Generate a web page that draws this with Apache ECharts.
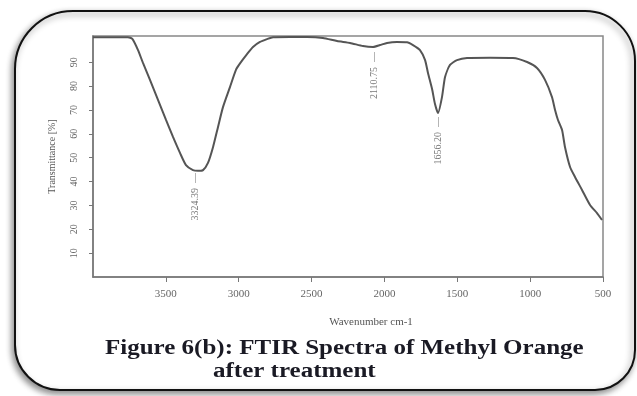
<!DOCTYPE html>
<html>
<head>
<meta charset="utf-8">
<script src="https://cdn.jsdelivr.net/npm/echarts@6/dist/echarts.min.js"></script>
<style>
  html, body { margin: 0; padding: 0; background: #fff; }
  #chart { width: 637px; height: 396px; }
</style>
</head>
<body>
<div id="chart"></div>
<script>
// spectrum (wavenumber cm-1 / transmittance %)
const wavenumbers = [4000, 3760, 3730, 3691, 3657, 3609, 3554, 3499, 3451, 3403, 3362, 3314, 3280, 3245, 3211, 3176,
  3142, 3108, 3060, 3019, 2991, 2943, 2902, 2854, 2806, 2765, 2648, 2531, 2422, 2325, 2236, 2147, 2078, 2030,
  1982, 1914, 1845, 1804, 1756, 1721, 1701, 1673, 1653, 1632, 1605, 1584, 1550, 1502, 1433, 1275, 1118, 1021,
  953, 898, 850, 829, 809, 781, 761, 726, 692, 644, 589, 541, 507];
const transmittance = [100.5, 100.5, 99.8, 95.1, 89.7, 82.6, 74.2, 65.8, 58.7, 52.0, 46.9, 44.8, 44.5, 44.8, 47.8, 54.5,
  62.9, 71.2, 79.6, 86.8, 89.5, 93.4, 96.4, 98.5, 99.7, 100.5, 100.6, 100.6, 100.2, 98.9, 98.1, 96.8, 96.4, 97.2,
  98.1, 98.5, 98.4, 97.2, 95.1, 90.9, 85.5, 78.8, 72.5, 68.7, 75.4, 83.8, 88.9, 90.9, 91.8, 91.9, 91.8, 90.1,
  87.6, 82.6, 75.4, 70.0, 65.8, 61.6, 54.5, 46.1, 41.9, 36.5, 30.2, 26.8, 23.9];

const peakLabels = ['3324.39', '2110.75', '1656.20'];
const peakWavenumbers = [3300, 2068, 1632];
const peakTransmittance = [43.6, 94.3, 67.1];

const xTicks = [3500, 3000, 2500, 2000, 1500, 1000, 500];
const yTicks = [10, 20, 30, 40, 50, 60, 70, 80, 90];

const captionLines = ['Figure 6(b): FTIR Spectra of Methyl Orange', 'after treatment'];

const serif = "'Liberation Serif', 'Times New Roman', serif";
const captionStyle = { fontFamily: serif, fontSize: 20, fontWeight: 'bold', fill: '#1a1a24', verticalAlign: 'top' };

const chart = echarts.init(document.getElementById('chart'), null, { renderer: 'canvas' });

chart.setOption({
  backgroundColor: '#fff',
  animation: false,
  graphic: [
    {
      type: 'rect', z: -10, silent: true,
      shape: { x: 15, y: 11, width: 620, height: 379, r: [58, 50, 40, 45] },
      style: {
        fill: '#fff', stroke: '#111', lineWidth: 2,
        shadowBlur: 6, shadowColor: 'rgba(0,0,0,0.45)', shadowOffsetX: -2, shadowOffsetY: 3
      }
    },
    // the scanned caption is stretched sideways, hence scaleX
    { type: 'text', x: 105, y: 339, scaleX: 1.25, style: Object.assign({ text: captionLines[0] }, captionStyle) },
    { type: 'text', x: 213, y: 362, scaleX: 1.25, style: Object.assign({ text: captionLines[1] }, captionStyle) }
  ],
  grid: {
    left: 93, right: 34, top: 36, bottom: 119,
    show: true, borderColor: '#888', borderWidth: 1.5, backgroundColor: 'transparent'
  },
  xAxis: {
    type: 'value', inverse: true, min: 500, max: 4000,
    name: 'Wavenumber cm-1', nameLocation: 'middle', nameGap: 40,
    nameTextStyle: { fontFamily: serif, fontSize: 11, color: '#555', padding: [0, 0, 0, 46] },
    axisLine: { show: true, lineStyle: { color: '#777', width: 1.5 } },
    axisTick: { show: true, length: 5, customValues: xTicks, lineStyle: { color: '#777' } },
    axisLabel: {
      customValues: xTicks, margin: 12, fontFamily: serif, fontSize: 11, color: '#666',
      formatter: v => String(v)
    },
    splitLine: { show: false }
  },
  yAxis: {
    type: 'value', min: 0, max: 101,
    name: 'Transmittance [%]', nameLocation: 'middle', nameGap: 36,
    nameTextStyle: { fontFamily: serif, fontSize: 10, color: '#555' },
    axisLine: { show: true, lineStyle: { color: '#777', width: 1.5 } },
    axisTick: { show: true, length: 4, customValues: yTicks, lineStyle: { color: '#777' } },
    axisLabel: {
      customValues: yTicks, rotate: 90, margin: 14, fontFamily: serif, fontSize: 10, color: '#666',
      formatter: v => String(v)
    },
    splitLine: { show: false }
  },
  series: [
    {
      type: 'line',
      data: wavenumbers.map((w, i) => [w, transmittance[i]]),
      showSymbol: false, smooth: 0.2,
      lineStyle: { color: '#555', width: 2 }
    },
    {
      type: 'scatter',
      symbolSize: 0,
      data: peakWavenumbers.map((w, i) => ({ value: [w, peakTransmittance[i]], name: peakLabels[i] })),
      label: {
        show: true, position: 'bottom', distance: 0, rotate: 90,
        align: 'right', verticalAlign: 'middle',
        formatter: p => p.name + '  \u2014',
        fontFamily: serif, fontSize: 10, color: '#555'
      }
    }
  ]
});
</script>
</body>
</html>
